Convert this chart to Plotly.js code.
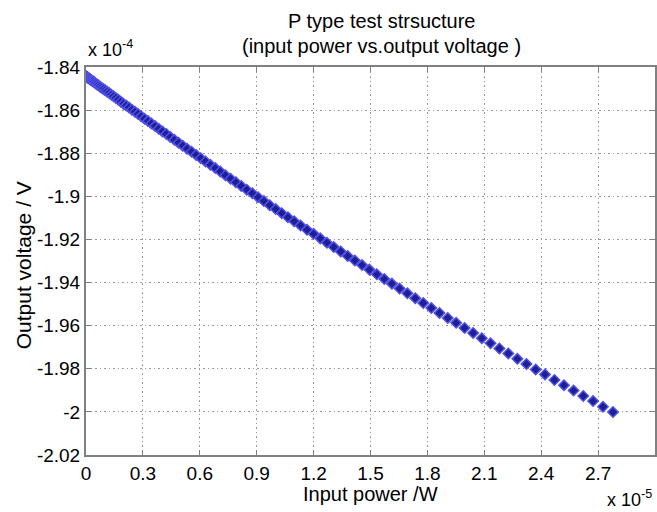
<!DOCTYPE html>
<html>
<head>
<meta charset="utf-8">
<script src="https://cdn.plot.ly/plotly-3.0.1.min.js"></script>
<style>
  html, body { margin: 0; padding: 0; background: #ffffff; }
  #chart { width: 657px; height: 512px; }
</style>
</head>
<body>
<div id="chart"></div>
<script>
// Input power, in units of 1e-5 W
const powerE5 = [
  0, 0.0003, 0.001, 0.0023, 0.004, 0.0063, 0.0091, 0.0124, 0.0161, 0.0204,
  0.0252, 0.0305, 0.0363, 0.0426, 0.0494, 0.0567, 0.0645, 0.0728, 0.0817, 0.091,
  0.1008, 0.1111, 0.122, 0.1333, 0.1452, 0.1575, 0.1704, 0.1837, 0.1976, 0.2119,
  0.2268, 0.2422, 0.2581, 0.2744, 0.2913, 0.3087, 0.3266, 0.345, 0.3639, 0.3833,
  0.4032, 0.4236, 0.4445, 0.466, 0.4879, 0.5103, 0.5332, 0.5567, 0.5806, 0.6051,
  0.63, 0.6555, 0.6814, 0.7079, 0.7348, 0.7623, 0.7903, 0.8188, 0.8477, 0.8772,
  0.9072, 0.9377, 0.9687, 1.0002, 1.0322, 1.0647, 1.0977, 1.1312, 1.1653, 1.1998,
  1.2348, 1.2703, 1.3064, 1.3429, 1.38, 1.4175, 1.4556, 1.4941, 1.5332, 1.5727,
  1.6128, 1.6534, 1.6945, 1.736, 1.7781, 1.8207, 1.8638, 1.9074, 1.9515, 1.9961,
  2.0412, 2.0868, 2.1329, 2.1796, 2.2267, 2.2743, 2.3224, 2.3711, 2.4202, 2.4699,
  2.52, 2.5707, 2.6218, 2.6735, 2.7256, 2.7783
];

// Output voltage, in units of 1e-4 V
const voltageE4 = [
  -1.8443, -1.8443, -1.8444, -1.8444, -1.8446, -1.8447, -1.8449, -1.8451, -1.8453, -1.8456,
  -1.8459, -1.8463, -1.8466, -1.847, -1.8475, -1.848, -1.8485, -1.849, -1.8496, -1.8502,
  -1.8508, -1.8514, -1.8521, -1.8529, -1.8536, -1.8544, -1.8552, -1.8561, -1.857, -1.8579,
  -1.8588, -1.8598, -1.8608, -1.8618, -1.8629, -1.864, -1.8651, -1.8662, -1.8674, -1.8686,
  -1.8699, -1.8711, -1.8725, -1.8738, -1.8751, -1.8765, -1.8779, -1.8793, -1.8808, -1.8823,
  -1.8838, -1.8854, -1.8869, -1.8885, -1.8902, -1.8918, -1.8935, -1.8952, -1.8969, -1.8986,
  -1.9004, -1.9022, -1.9041, -1.9059, -1.9078, -1.9097, -1.9116, -1.9135, -1.9155, -1.9174,
  -1.9195, -1.9215, -1.9235, -1.9256, -1.9277, -1.9298, -1.9319, -1.934, -1.9362, -1.9383,
  -1.9405, -1.9428, -1.945, -1.9473, -1.9495, -1.9518, -1.9541, -1.9564, -1.9587, -1.9611,
  -1.9634, -1.9658, -1.9682, -1.9706, -1.9729, -1.9754, -1.9778, -1.9803, -1.9826, -1.9852,
  -1.9876, -1.9901, -1.9926, -1.995, -1.9976, -2.0001
];

// Axis ticks and their labels
const xTickVals = [0, 0.3, 0.6, 0.9, 1.2, 1.5, 1.8, 2.1, 2.4, 2.7, 3];
const xTickText = ['0', '0.3', '0.6', '0.9', '1.2', '1.5', '1.8', '2.1', '2.4', '2.7', '3'];
const yTickVals = [-2.02, -2, -1.98, -1.96, -1.94, -1.92, -1.9, -1.88, -1.86, -1.84];
const yTickText = ['-2.02', '-2', '-1.98', '-1.96', '-1.94', '-1.92', '-1.9', '-1.88', '-1.86', '-1.84'];

const FONT = 'Liberation Sans, Arial, Helvetica, sans-serif';

const trace = {
  type: 'scatter',
  mode: 'markers',
  x: powerE5,
  y: voltageE4,
  marker: {
    symbol: 'diamond',
    size: 8,
    color: '#1e1e96',
    line: { color: '#5050e6', width: 1.5 }
  },
  hoverinfo: 'x+y'
};

const axisCommon = {
  showline: true,
  linecolor: '#808080',
  linewidth: 2,
  mirror: 'ticks',
  ticks: 'inside',
  ticklen: 5,
  tickwidth: 1,
  tickcolor: '#808080',
  showgrid: true,
  gridcolor: '#9a9a9a',
  gridwidth: 1,
  griddash: '1.5px,3px',
  zeroline: false,
  tickfont: { family: FONT, size: 19, color: '#000000' },
  tickmode: 'array'
};

const layout = {
  width: 657,
  height: 512,
  margin: { l: 86, r: 2, t: 67, b: 57 },
  paper_bgcolor: '#ffffff',
  plot_bgcolor: '#ffffff',
  showlegend: false,
  xaxis: Object.assign({}, axisCommon, {
    range: [0, 3],
    tickvals: xTickVals,
    ticktext: xTickText
  }),
  yaxis: Object.assign({}, axisCommon, {
    range: [-2.02, -1.84],
    tickvals: yTickVals,
    ticktext: yTickText
  }),
  annotations: [
    { text: 'P type test strsucture', xref: 'paper', yref: 'paper', x: 0.52, y: 1.118,
      xanchor: 'center', yanchor: 'middle', showarrow: false,
      font: { family: FONT, size: 20, color: '#000000' } },
    { text: '(input power vs.output voltage )', xref: 'paper', yref: 'paper', x: 0.52, y: 1.055,
      xanchor: 'center', yanchor: 'middle', showarrow: false,
      font: { family: FONT, size: 20, color: '#000000' } },
    { text: 'x 10<sup>-4</sup>', xref: 'paper', yref: 'paper', x: 0, y: 1.012,
      xanchor: 'left', yanchor: 'bottom', showarrow: false,
      font: { family: FONT, size: 18, color: '#000000' } },
    { text: 'x 10<sup>-5</sup>', xref: 'paper', yref: 'paper', x: 0.998, y: -0.146,
      xanchor: 'right', yanchor: 'bottom', showarrow: false,
      font: { family: FONT, size: 18, color: '#000000' } },
    { text: 'Input power /W', xref: 'paper', yref: 'paper', x: 0.5, y: -0.1,
      xanchor: 'center', yanchor: 'middle', showarrow: false,
      font: { family: FONT, size: 20, color: '#000000' } },
    { text: 'Output voltage / V', xref: 'paper', yref: 'paper', x: -0.11, y: 0.49,
      xanchor: 'center', yanchor: 'middle', textangle: -90, showarrow: false,
      font: { family: FONT, size: 21, color: '#000000' } }
  ]
};

Plotly.newPlot('chart', [trace], layout, { displayModeBar: false, staticPlot: true });
</script>
</body>
</html>
